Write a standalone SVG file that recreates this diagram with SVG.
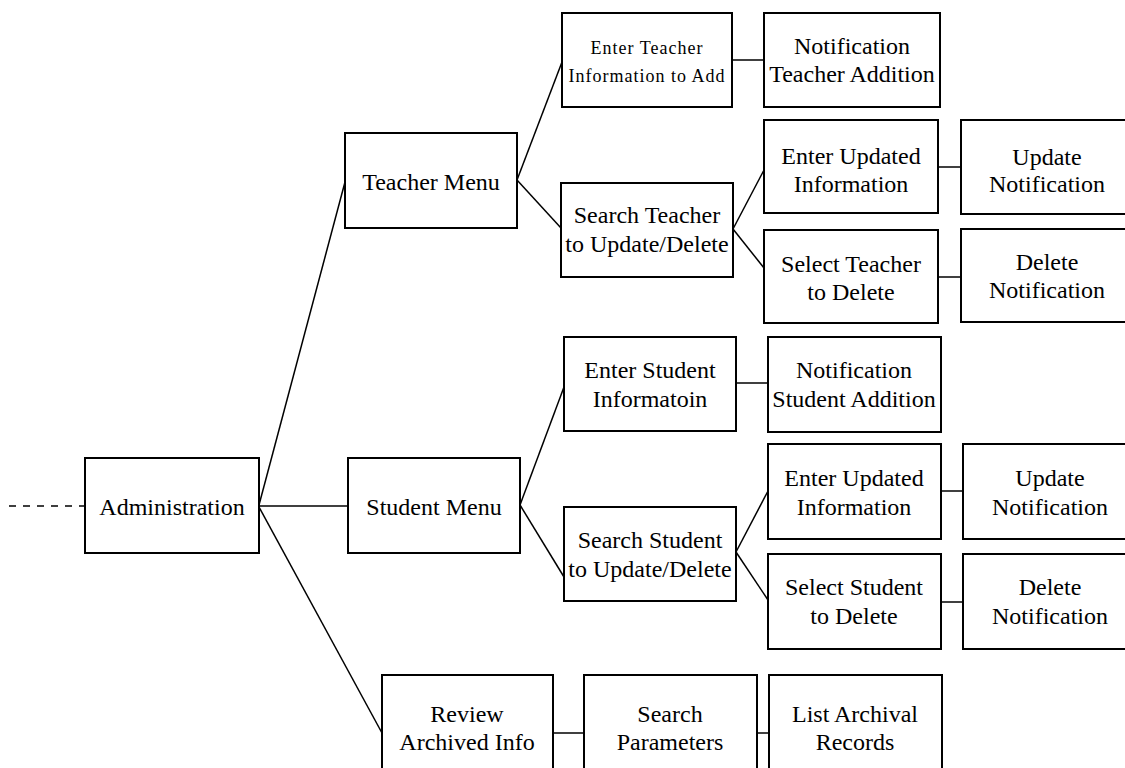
<svg xmlns="http://www.w3.org/2000/svg" width="1125" height="768" viewBox="0 0 1125 768">
<style>
.box{fill:#fff;stroke:#000;stroke-width:2}
.t{font-family:"Liberation Serif","Times New Roman",serif;font-size:24px;fill:#000;text-anchor:middle}
.s{font-size:18px;letter-spacing:1px}
.ln{stroke:#000;stroke-width:1.5;fill:none}
</style>
<rect width="1125" height="768" fill="#fff"/>
<g id="connectors">
<line class="ln" x1="9" y1="506" x2="85" y2="506" stroke-dasharray="7,7"/>
<line class="ln" x1="259" y1="505" x2="345" y2="182"/>
<line class="ln" x1="259" y1="506" x2="348" y2="506"/>
<line class="ln" x1="259" y1="507" x2="382" y2="733"/>
<line class="ln" x1="517" y1="180" x2="562" y2="62"/>
<line class="ln" x1="517" y1="180" x2="561" y2="228"/>
<line class="ln" x1="732" y1="60" x2="764" y2="60"/>
<line class="ln" x1="733" y1="229" x2="764" y2="170"/>
<line class="ln" x1="733" y1="229" x2="764" y2="268"/>
<line class="ln" x1="938" y1="167" x2="961" y2="167"/>
<line class="ln" x1="938" y1="277" x2="961" y2="277"/>
<line class="ln" x1="520" y1="505" x2="564" y2="387"/>
<line class="ln" x1="520" y1="505" x2="564" y2="577"/>
<line class="ln" x1="736" y1="383" x2="768" y2="383"/>
<line class="ln" x1="736" y1="552" x2="768" y2="491"/>
<line class="ln" x1="736" y1="552" x2="768" y2="600"/>
<line class="ln" x1="941" y1="491" x2="963" y2="491"/>
<line class="ln" x1="941" y1="602" x2="963" y2="602"/>
<line class="ln" x1="553" y1="733" x2="584" y2="733"/>
<line class="ln" x1="757" y1="733" x2="769" y2="733"/>
</g>
<g id="administration"><rect class="box" x="85" y="458" width="174" height="95"/><text class="t" x="172" y="515">Administration</text></g>
<g id="teacher-menu"><rect class="box" x="345" y="133" width="172" height="95"/><text class="t" x="431" y="190">Teacher Menu</text></g>
<g id="student-menu"><rect class="box" x="348" y="458" width="172" height="95"/><text class="t" x="434" y="515">Student Menu</text></g>
<g id="enter-teacher"><rect class="box" x="562" y="13" width="170" height="94"/><text class="t s" x="647" y="54">Enter Teacher</text><text class="t s" x="647" y="82">Information to Add</text></g>
<g id="notif-teacher-add"><rect class="box" x="764" y="13" width="176" height="94"/><text class="t" x="852" y="54">Notification</text><text class="t" x="852" y="82">Teacher Addition</text></g>
<g id="search-teacher"><rect class="box" x="561" y="183" width="172" height="94"/><text class="t" x="647" y="223">Search Teacher</text><text class="t" x="647" y="252">to Update/Delete</text></g>
<g id="enter-updated-teacher"><rect class="box" x="764" y="120" width="174" height="93"/><text class="t" x="851" y="164">Enter Updated</text><text class="t" x="851" y="192">Information</text></g>
<g id="update-notif-teacher"><rect class="box" x="961" y="120" width="175" height="94"/><text class="t" x="1047" y="165">Update</text><text class="t" x="1047" y="192">Notification</text></g>
<g id="select-teacher"><rect class="box" x="764" y="230" width="174" height="93"/><text class="t" x="851" y="272">Select Teacher</text><text class="t" x="851" y="300">to Delete</text></g>
<g id="delete-notif-teacher"><rect class="box" x="961" y="229" width="175" height="93"/><text class="t" x="1047" y="270">Delete</text><text class="t" x="1047" y="298">Notification</text></g>
<g id="enter-student"><rect class="box" x="564" y="337" width="172" height="94"/><text class="t" x="650" y="378">Enter Student</text><text class="t" x="650" y="407">Informatoin</text></g>
<g id="notif-student-add"><rect class="box" x="768" y="337" width="173" height="95"/><text class="t" x="854" y="378">Notification</text><text class="t" x="854" y="407">Student Addition</text></g>
<g id="search-student"><rect class="box" x="564" y="507" width="172" height="94"/><text class="t" x="650" y="548">Search Student</text><text class="t" x="650" y="577">to Update/Delete</text></g>
<g id="enter-updated-student"><rect class="box" x="768" y="444" width="173" height="95"/><text class="t" x="854" y="486">Enter Updated</text><text class="t" x="854" y="515">Information</text></g>
<g id="update-notif-student"><rect class="box" x="963" y="444" width="173" height="95"/><text class="t" x="1050" y="486">Update</text><text class="t" x="1050" y="515">Notification</text></g>
<g id="select-student"><rect class="box" x="768" y="554" width="173" height="95"/><text class="t" x="854" y="595">Select Student</text><text class="t" x="854" y="624">to Delete</text></g>
<g id="delete-notif-student"><rect class="box" x="963" y="554" width="173" height="95"/><text class="t" x="1050" y="595">Delete</text><text class="t" x="1050" y="624">Notification</text></g>
<g id="review-archived"><rect class="box" x="382" y="675" width="171" height="100"/><text class="t" x="467" y="722">Review</text><text class="t" x="467" y="750">Archived Info</text></g>
<g id="search-parameters"><rect class="box" x="584" y="675" width="173" height="100"/><text class="t" x="670" y="722">Search</text><text class="t" x="670" y="750">Parameters</text></g>
<g id="list-archival"><rect class="box" x="769" y="675" width="173" height="100"/><text class="t" x="855" y="722">List Archival</text><text class="t" x="855" y="750">Records</text></g>
</svg>
